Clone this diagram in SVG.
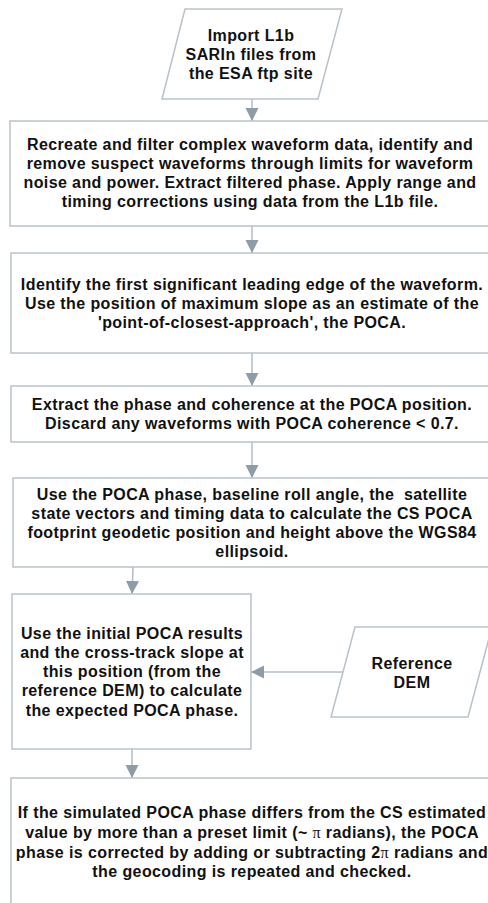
<svg xmlns="http://www.w3.org/2000/svg" width="488" height="903" viewBox="0 0 488 903">
<style>
.box{fill:#ffffff;stroke:#b9c2ca;stroke-width:1.5}
.t{font-family:"Liberation Sans",Arial,sans-serif;font-weight:bold;font-size:16px;letter-spacing:0.4px;fill:#111111;text-anchor:middle}
.c{stroke:#b3bdc5;stroke-width:1.5;fill:none}
.pi{font-family:"Liberation Serif","Times New Roman",serif;font-weight:normal}
</style>
<defs>
<marker id="ah" viewBox="0 0 13 17" refX="13" refY="6.5" markerWidth="13" markerHeight="17" markerUnits="userSpaceOnUse" orient="auto">
<path d="M0,0 L17,6.5 L0,13 Z" fill="#8e9ca7" transform="scale(0.76,1)"/>
</marker>
</defs>
<rect width="488" height="903" fill="#ffffff"/>
<g id="connectors">
<line class="c" x1="252" y1="99" x2="252" y2="121" marker-end="url(#ah)"/>
<line class="c" x1="252" y1="226" x2="252" y2="253" marker-end="url(#ah)"/>
<line class="c" x1="252" y1="353" x2="252" y2="386" marker-end="url(#ah)"/>
<line class="c" x1="252" y1="442" x2="252" y2="478" marker-end="url(#ah)"/>
<line class="c" x1="133" y1="567" x2="132" y2="594" marker-end="url(#ah)"/>
<line class="c" x1="343" y1="672" x2="251" y2="672" marker-end="url(#ah)"/>
<line class="c" x1="132" y1="749" x2="132" y2="778" marker-end="url(#ah)"/>
</g>
<g id="import">
<polygon class="box" points="185,9 342,9 318,99 162,99"/>
<text class="t" x="251" y="41">Import L1b</text>
<text class="t" x="251" y="60">SARIn files from</text>
<text class="t" x="251" y="79">the ESA ftp site</text>
</g>
<g id="recreate">
<rect class="box" x="10" y="121" width="482" height="105"/>
<text class="t" x="250" y="150">Recreate and filter complex waveform data, identify and</text>
<text class="t" x="250" y="169">remove suspect waveforms through limits for waveform</text>
<text class="t" x="250" y="188">noise and power. Extract filtered phase. Apply range and</text>
<text class="t" x="250" y="207">timing corrections using data from the L1b file.</text>
</g>
<g id="identify">
<rect class="box" x="11" y="253" width="481" height="100"/>
<text class="t" x="252" y="290">Identify the first significant leading edge of the waveform.</text>
<text class="t" x="252" y="309">Use the position of maximum slope as an estimate of the</text>
<text class="t" x="252" y="328">'point-of-closest-approach', the POCA.</text>
</g>
<g id="extract">
<rect class="box" x="11" y="386" width="481" height="56"/>
<text class="t" x="252" y="410">Extract the phase and coherence at the POCA position.</text>
<text class="t" x="252" y="429">Discard any waveforms with POCA coherence &lt; 0.7.</text>
</g>
<g id="geolocate">
<rect class="box" x="13" y="478" width="479" height="89"/>
<text class="t" x="252" y="500" xml:space="preserve">Use the POCA phase, baseline roll angle, the  satellite</text>
<text class="t" x="252" y="519">state vectors and timing data to calculate the CS POCA</text>
<text class="t" x="252" y="538">footprint geodetic position and height above the WGS84</text>
<text class="t" x="252" y="557">ellipsoid.</text>
</g>
<g id="expected">
<rect class="box" x="12" y="594" width="239" height="155"/>
<text class="t" x="132" y="639">Use the initial POCA results</text>
<text class="t" x="132" y="658">and the cross-track slope at</text>
<text class="t" x="132" y="677">this position (from the</text>
<text class="t" x="132" y="696">reference DEM) to calculate</text>
<text class="t" x="132" y="716">the expected POCA phase.</text>
</g>
<g id="dem">
<polygon class="box" points="355,627 492,627 468,717 331,717"/>
<text class="t" x="412" y="669">Reference</text>
<text class="t" x="412" y="688">DEM</text>
</g>
<g id="correct">
<rect class="box" x="11" y="778" width="481" height="130"/>
<text class="t" x="252" y="818">If the simulated POCA phase differs from the CS estimated</text>
<text class="t" x="252" y="838">value by more than a preset limit (~ <tspan class="pi">π</tspan> radians), the POCA</text>
<text class="t" x="252" y="858">phase is corrected by adding or subtracting 2<tspan class="pi">π</tspan> radians and</text>
<text class="t" x="252" y="877">the geocoding is repeated and checked.</text>
</g>
</svg>
